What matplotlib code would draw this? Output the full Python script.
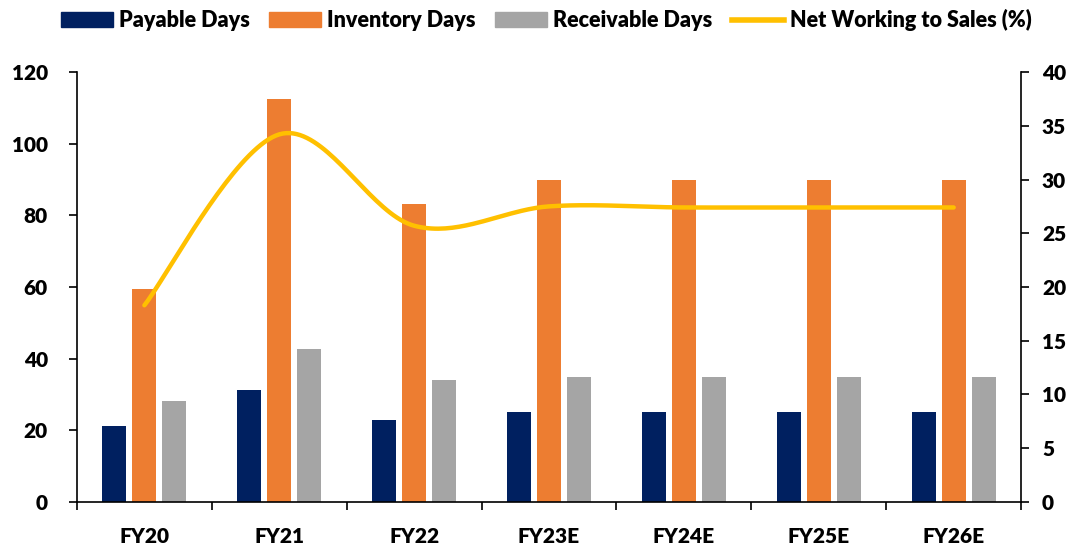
import numpy as np
import matplotlib.pyplot as plt
from matplotlib.lines import Line2D
from matplotlib.patches import Patch

years = ["FY20", "FY21", "FY22", "FY23E", "FY24E", "FY25E", "FY26E"]
payable_days = [21.2, 31.3, 22.9, 25, 25, 25, 25]
inventory_days = [59.5, 112.5, 83.2, 90, 90, 90, 90]
receivable_days = [28.2, 42.7, 34.0, 35, 35, 35, 35]
nwc_to_sales = [18.3, 34.2, 25.7, 27.5, 27.4, 27.4, 27.4]

NAVY = "#002060"
ORANGE = "#ED7D31"
GRAY = "#A5A5A5"
YELLOW = "#FFC000"
WEIGHT = "heavy"

plt.rcParams["font.family"] = ["Lato", "DejaVu Sans"]
plt.rcParams["font.weight"] = WEIGHT


def smooth(x, y, n=40):
    # Catmull-Rom style bezier through each point (spreadsheet "smoothed line")
    x = np.asarray(x, float)
    y = np.asarray(y, float)
    px = np.concatenate([[x[0]], x, [x[-1]]])
    py = np.concatenate([[y[0]], y, [y[-1]]])
    xs, ys = [], []
    t = np.linspace(0, 1, n)
    for i in range(1, len(px) - 2):
        p0 = np.array([px[i], py[i]])
        p3 = np.array([px[i + 1], py[i + 1]])
        p1 = p0 + (np.array([px[i + 1], py[i + 1]]) - np.array([px[i - 1], py[i - 1]])) / 6
        p2 = p3 - (np.array([px[i + 2], py[i + 2]]) - np.array([px[i], py[i]])) / 6
        b = ((1 - t) ** 3)[:, None] * p0 + (3 * (1 - t) ** 2 * t)[:, None] * p1 \
            + (3 * (1 - t) * t ** 2)[:, None] * p2 + (t ** 3)[:, None] * p3
        xs.extend(b[:, 0])
        ys.extend(b[:, 1])
    return np.array(xs), np.array(ys)


fig = plt.figure(figsize=(10.84, 5.46), dpi=100)
ax = fig.add_axes([0.071, 0.0806, 0.871, 0.7875])
x = np.arange(len(years))
w = 0.178
off = 0.222
ax.bar(x - off, payable_days, w, color=NAVY)
ax.bar(x, inventory_days, w, color=ORANGE)
ax.bar(x + off, receivable_days, w, color=GRAY)

ax.set_xlim(-0.5, len(years) - 0.5)
ax.set_ylim(0, 120)
ax.set_yticks(np.arange(0, 121, 20))
ax.set_xticks(x)
ax.set_xticklabels(years)
ax.set_xticks(np.arange(-0.5, len(years), 1), minor=True)
ax.tick_params(axis="x", which="major", length=0, pad=18, labelsize=15)
ax.tick_params(axis="x", which="minor", length=6, width=1.2, direction="out")
ax.tick_params(axis="y", length=6, width=1.2, labelsize=15, pad=15)
for s in ["top", "right"]:
    ax.spines[s].set_visible(False)
ax.spines["left"].set_linewidth(1.2)
ax.spines["bottom"].set_linewidth(1.2)

# net working capital line on the right-hand axis
ax2 = ax.twinx()
sx, sy = smooth(x, nwc_to_sales)
ax2.plot(sx, sy, color=YELLOW, lw=3.2, solid_capstyle="round")
ax2.set_ylim(0, 40)
ax2.set_yticks(np.arange(0, 41, 5))
ax2.tick_params(axis="y", length=6, width=1.2, labelsize=15, pad=9)
ax2.spines["top"].set_visible(False)
ax2.spines["left"].set_visible(False)
ax2.spines["bottom"].set_visible(False)
ax2.spines["right"].set_linewidth(1.2)

for lbl in ax.get_xticklabels() + ax.get_yticklabels() + ax2.get_yticklabels():
    lbl.set_fontweight(WEIGHT)

handles = [
    Patch(color=NAVY, label="Payable Days"),
    Patch(color=ORANGE, label="Inventory Days"),
    Patch(color=GRAY, label="Receivable Days"),
    Line2D([0], [0], color=YELLOW, lw=4, label="Net Working to Sales (%)"),
]
fig.legend(handles=handles, loc="center", bbox_to_anchor=(0.504, 0.963), ncol=4,
           frameon=False, prop={"size": 15.5, "weight": WEIGHT},
           handlelength=2.4, handleheight=0.65, handletextpad=0.3, columnspacing=0.9)

fig.savefig("out.png", dpi=100)
